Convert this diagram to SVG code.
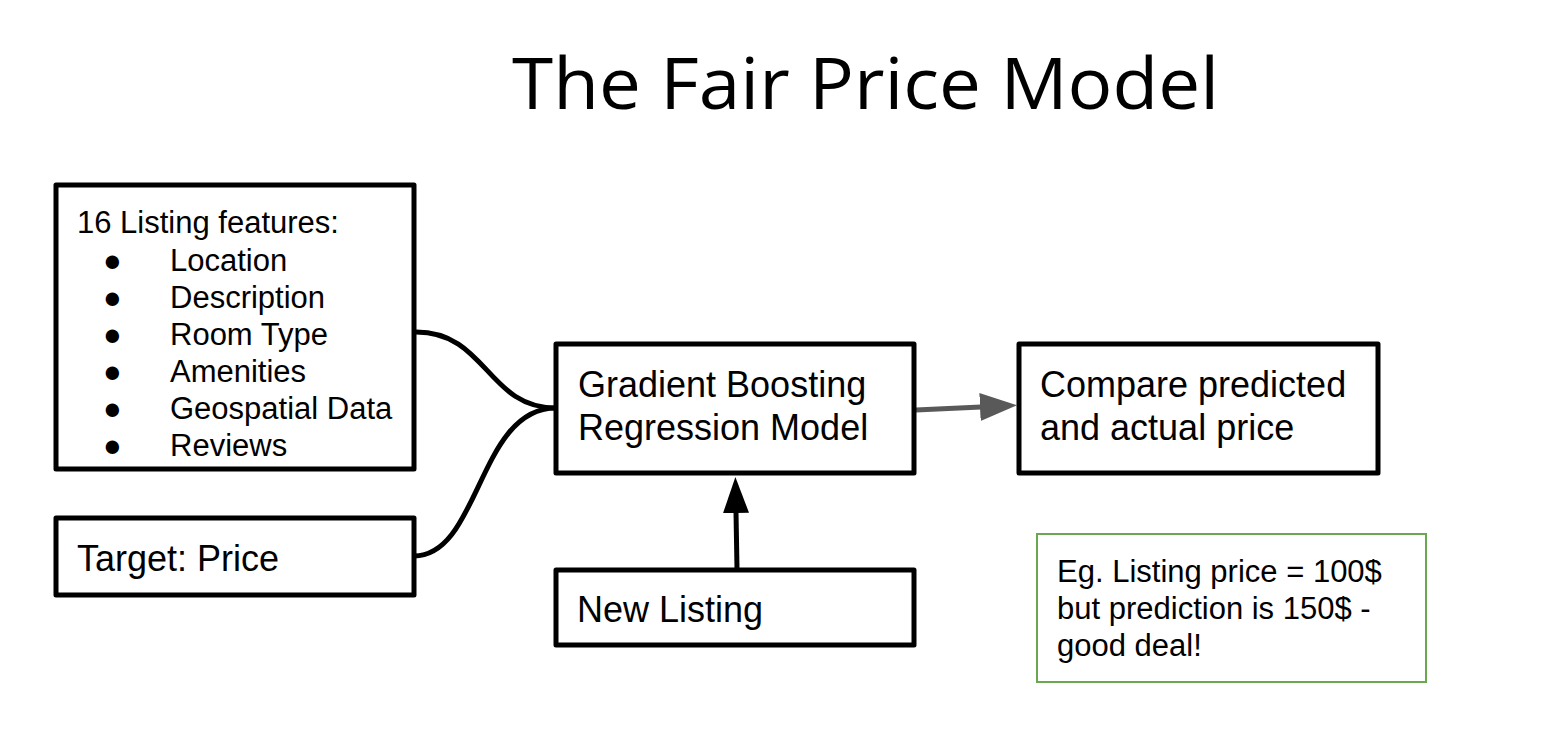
<svg xmlns="http://www.w3.org/2000/svg" width="1556" height="742" viewBox="0 0 1556 742">
<style>
.box{fill:#fff;stroke:#000;stroke-width:5;stroke-linejoin:round}
.note{fill:#fff;stroke:#6aa84f;stroke-width:2}
.t{font-family:"Liberation Sans",Arial,sans-serif;fill:#000}
.t36{font-size:36px}
.t31{font-size:31px}
.title{font-family:"Open Sans","Noto Sans",sans-serif;font-size:72px;fill:#000}
.conn{fill:none;stroke:#000;stroke-width:5}
</style>
<defs>
<marker id="arrBlack" markerUnits="userSpaceOnUse" markerWidth="40" markerHeight="30" refX="1" refY="13" orient="auto">
<path d="M0,0 L36,13 L0,26 Z" fill="#000"/>
</marker>
<marker id="arrGray" markerUnits="userSpaceOnUse" markerWidth="40" markerHeight="30" refX="1" refY="14" orient="auto">
<path d="M0,0 L37,14 L0,28 Z" fill="#595959"/>
</marker>
</defs>
<rect width="1556" height="742" fill="#fff"/>
<text class="title" x="512" y="109" textLength="707" lengthAdjust="spacingAndGlyphs">The Fair Price Model</text>
<g id="connectors">
<path class="conn" d="M416,332 C487,332 487,408 556,408"/>
<path class="conn" d="M414,556 C480,556 478,408 556,408"/>
<path class="conn" d="M737,569 L736,512" marker-end="url(#arrBlack)"/>
<path fill="none" stroke="#595959" stroke-width="5" d="M916,410 L981,407" marker-end="url(#arrGray)"/>
</g>
<g id="features">
<rect class="box" x="56" y="185" width="358" height="284"/>
<text class="t t31" x="77" y="233">16 Listing features:</text>
<g class="t t31">
<text x="103" y="271">●</text><text x="170" y="271">Location</text>
<text x="103" y="308">●</text><text x="170" y="308">Description</text>
<text x="103" y="345">●</text><text x="170" y="345">Room Type</text>
<text x="103" y="382">●</text><text x="170" y="382">Amenities</text>
<text x="103" y="419">●</text><text x="170" y="419">Geospatial Data</text>
<text x="103" y="456">●</text><text x="170" y="456">Reviews</text>
</g>
</g>
<g id="target">
<rect class="box" x="56" y="518" width="358" height="77"/>
<text class="t t36" x="77" y="571">Target: Price</text>
</g>
<g id="model">
<rect class="box" x="556" y="344" width="358" height="129"/>
<text class="t t36" x="578" y="397">Gradient Boosting</text>
<text class="t t36" x="578" y="440">Regression Model</text>
</g>
<g id="newlisting">
<rect class="box" x="556" y="570" width="358" height="75"/>
<text class="t t36" x="577" y="622">New Listing</text>
</g>
<g id="compare">
<rect class="box" x="1019" y="344" width="359" height="129"/>
<text class="t t36" x="1040" y="397">Compare predicted</text>
<text class="t t36" x="1040" y="440">and actual price</text>
</g>
<g id="example">
<rect class="note" x="1037" y="534" width="389" height="148"/>
<text class="t t31" x="1057" y="582">Eg. Listing price = 100$</text>
<text class="t t31" x="1057" y="619">but prediction is 150$ -</text>
<text class="t t31" x="1057" y="656">good deal!</text>
</g>
</svg>
